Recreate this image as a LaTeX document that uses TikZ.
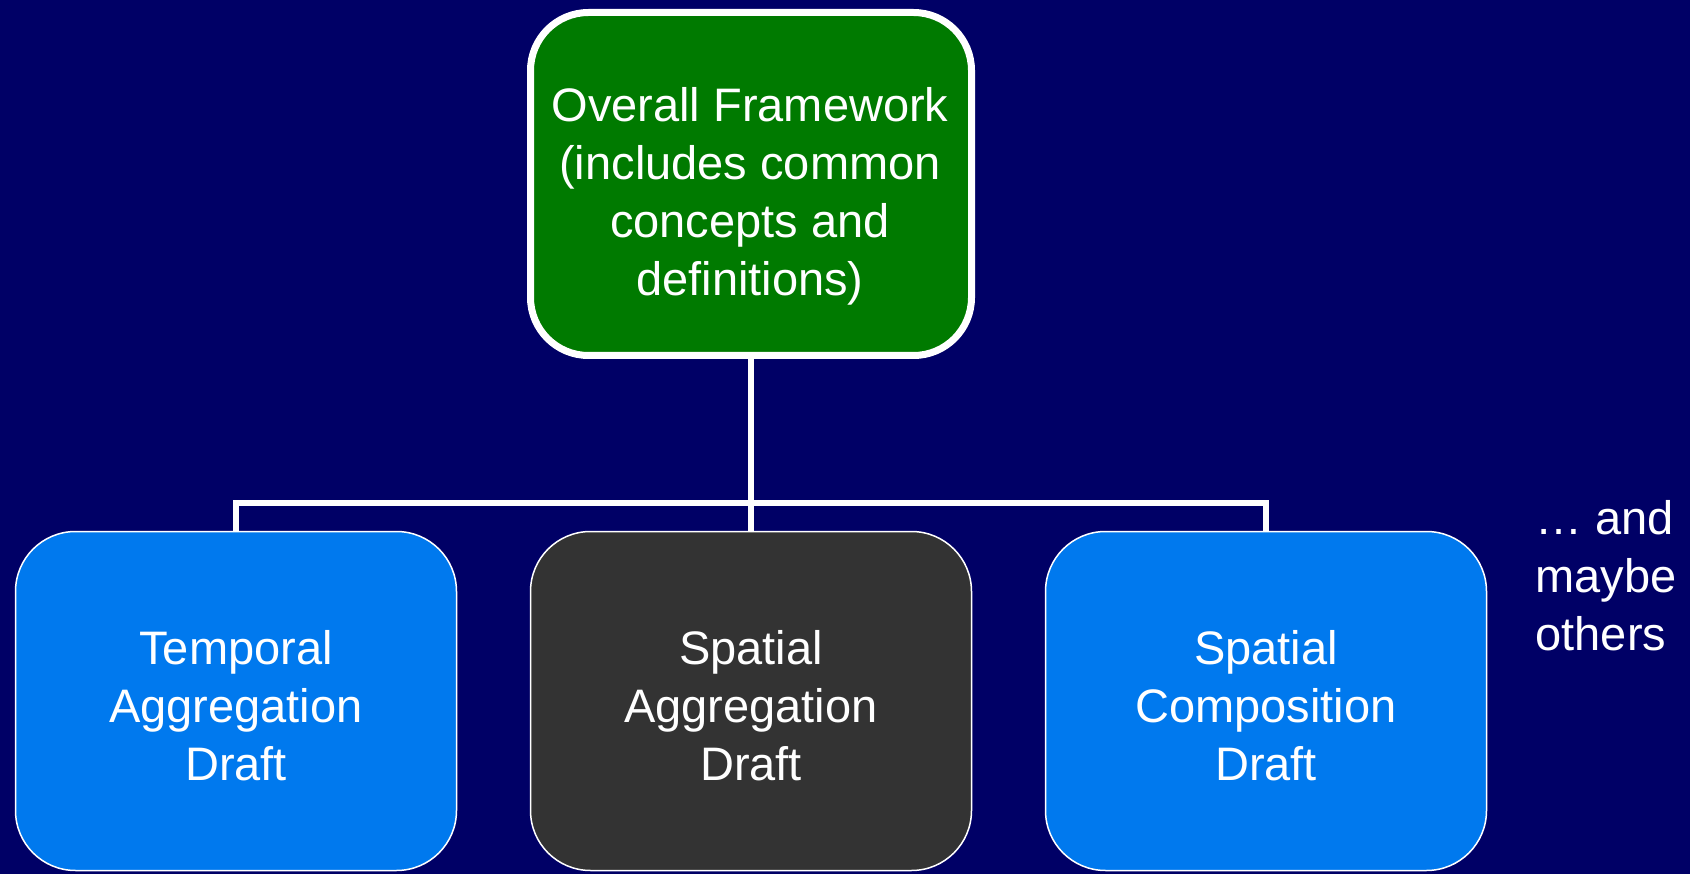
\documentclass[tikz,border=0pt]{standalone}
\usepackage{fontspec}
\setmainfont{Liberation Sans}
\usepackage{xcolor}
\usepackage{tikz}
\definecolor{bg}{HTML}{000066}
\definecolor{rootgreen}{HTML}{007A00}
\definecolor{draftblue}{HTML}{0079EE}
\definecolor{draftgrey}{HTML}{333333}
\definecolor{text}{HTML}{FFFFFF}
\tikzset{
  root/.style={draw=text, fill=rootgreen, line width=7pt, rounded corners=58pt,
    minimum width=441pt, minimum height=343pt, inner sep=0pt},
  draft/.style={draw=text, fill=draftblue, line width=1.5pt, rounded corners=60pt,
    minimum width=441pt, minimum height=339pt, inner sep=0pt},
  link/.style={draw=text, line width=6pt},
  lab/.style={text=text, align=center, font=\fontsize{47}{58}\selectfont},
  labl/.style={text=text, align=left, font=\fontsize{47}{58}\selectfont},
}

\begin{document}
\begin{tikzpicture}[x=1pt,y=-1pt]
  % page
  \fill[bg] (0,0) rectangle (1690,874);
  \useasboundingbox (0,0) rectangle (1690,874);

  % framework box
  \node[root] (fw) at (751,184) {};
  \node[lab] (fwtext) at (750,196) {Overall Framework\\(includes common\\concepts and\\definitions)};

  % drafts
  \def\yD{701}
  \node[draft] (tad) at (236,\yD) {};
  \node[draft, fill=draftgrey] (sad) at (751,\yD) {};
  \node[draft] (scd) at (1266,\yD) {};
  \node[lab, yshift=-5pt] (tadtext) at (tad.center) {Temporal\\Aggregation\\Draft};
  \node[lab, yshift=-5pt] (sadtext) at (sad.center) {Spatial\\Aggregation\\Draft};
  \node[lab, yshift=-5pt] (scdtext) at (scd.center) {Spatial\\Composition\\Draft};

  % tree lines
  \coordinate (bus) at (751,503);
  \draw[link] (fw.south) -- (sad.north);
  \draw[link, line join=miter] (tad.north) -- (tad.north |- bus) -- (scd.north |- bus) -- (scd.north);

  \node[labl, anchor=west] (more) at (1532,576) {\dots\ and\\maybe\\others};
\end{tikzpicture}
\end{document}
